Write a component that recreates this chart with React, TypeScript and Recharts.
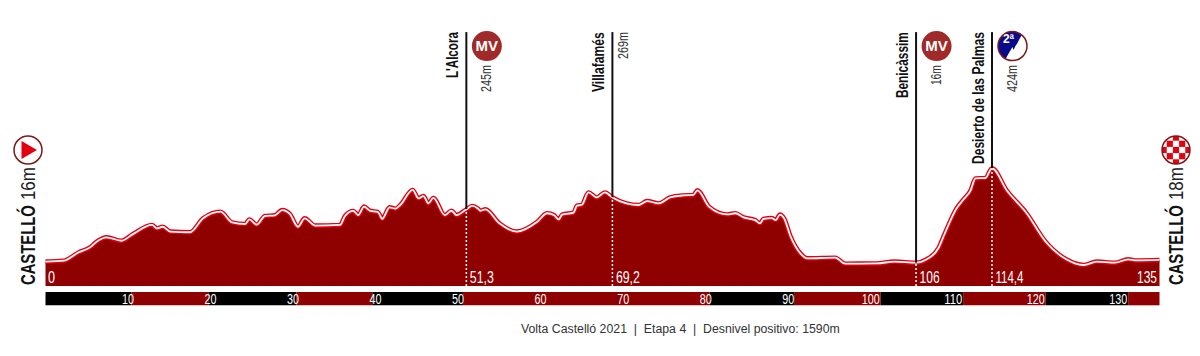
import React from 'react';
import {
  ComposedChart,
  Area,
  Line,
  XAxis,
  YAxis,
  ReferenceArea,
  ReferenceLine,
  ReferenceDot,
} from 'recharts';

// profile: km / metres
const kmPoints = [
  0, 2.2, 4, 5.4, 6.2, 7.4, 9.2, 10.6, 12.9, 13.5, 14.2, 15.1, 17.5, 19.1, 21.2, 22.6, 24.2, 24.7, 25.6, 26.6,
  27.8, 28.7, 29.6, 30.6, 31.4, 32.7, 35.7, 36.3, 37.3, 37.9, 38.6, 39.3, 40.3, 40.8, 41.7, 42.4, 43, 44.5, 45.2,
  45.8, 46.4, 47, 48.4, 49.2, 49.8, 51, 51.7, 52.4, 52.7, 53.3, 55, 57.1, 59.6, 60.8, 61.6, 62.2, 62.6, 64, 64.4,
  65, 65.8, 66.8, 67.8, 68.7, 70.4, 71.9, 72.9, 74.3, 75.7, 77.3, 78.5, 79, 80.4, 82.6, 83.6, 84.6, 86, 86.6, 87,
  88, 88.5, 89, 89.5, 90.3, 91.5, 92.3, 95.7, 96.9, 100.7, 102.9, 105.5, 106.8, 108.2, 108.9, 110.4, 111.2, 112.1,
  112.7, 113.9, 114.7, 116.5, 118.9, 121.2, 123.7, 125.8, 127.4, 129.6, 131.2, 132.2, 135,
];
const elevations = [
  15, 19, 55, 77, 102, 121, 106, 135, 175, 160, 167, 146, 143, 204, 233, 186, 179, 199, 176, 214,
  217, 240, 223, 167, 204, 172, 175, 214, 236, 218, 255, 237, 231, 202, 252, 246, 262, 328, 291,
  301, 269, 293, 218, 237, 218, 243, 258, 247, 237, 243, 182, 146, 189, 226, 218, 199, 220, 229, 259,
  263, 317, 295, 317, 295, 269, 262, 279, 269, 295, 304, 306, 326, 255, 221, 226, 208, 196, 182, 201,
  205, 196, 220, 204, 124, 50, 29, 32, 6, 7, 15, 10, 25, 73, 131, 247, 284, 325,
  378, 380, 422, 325, 226, 102, 25, 0, 15, 10, 25, 20, 22,
];

const tickKms = [10, 20, 30, 40, 50, 60, 70, 80, 90, 100, 110, 120, 130];
const stripEdges = [0, 10.4, 19.8, 30.4, 39.6, 50.6, 80.5, 90.8, 101.2, 111.2, 121.2, 131.2, 135];
const stripColors = ['#000', '#8f0000', '#000', '#8f0000', '#000', '#8f0000', '#000', '#8f0000', '#000', '#8f0000', '#000', '#8f0000'];

const climbKms = [51, 68.7, 105.5, 114.7];
const climbElevations = [243, 295, 10, 422];
const climbNames = ["L'Alcora", 'Villafamés', 'Benicàssim', 'Desierto de las Palmas'];
const climbHeights = ['245m', '269m', '16m', '424m'];
const climbKmLabels = ['51,3', '69,2', '106', '114,4'];
const climbBadges = ['MV', '', 'MV', '2ª'];
const climbNameLengths = [46, 60, 66, 132];
const climbHeightLengths = [27, 27, 20, 27];
const climbKmLengths = [24, 24, 20, 28];

const data = kmPoints.map((km, i) => ({ km, elevation: elevations[i] }));

const NARROW = '"Liberation Sans Narrow", "Liberation Sans", sans-serif';
const BASE = -92;
const TOP = 1017;

const Vertical = ({ x, y, size, weight, fill, length, anchor, children }: any) => (
  <text
    transform={`rotate(-90 ${x} ${y})`}
    x={x}
    y={y}
    fontFamily={NARROW}
    fontSize={size}
    fontWeight={weight}
    fill={fill}
    textAnchor={anchor}
    textLength={length}
    lengthAdjust="spacingAndGlyphs"
  >
    {children}
  </text>
);

const Badge = ({ cx, cy, kind }: any) => {
  if (kind === 'MV') {
    return (
      <g>
        <circle cx={cx} cy={cy} r={15} fill="#a02a2a" />
        <text x={cx} y={cy + 5} textAnchor="middle" fontFamily={NARROW} fontWeight="bold" fontSize={15} fill="#fff">
          MV
        </text>
      </g>
    );
  }
  return (
    <g>
      <clipPath id="cat-clip">
        <circle cx={cx} cy={cy} r={14.5} />
      </clipPath>
      <circle cx={cx} cy={cy} r={14.5} fill="#fff" />
      <path
        clipPath="url(#cat-clip)"
        d={`M${cx - 16} ${cy + 16} V${cy - 16} H${cx + 12} L${cx + 7} ${cy - 7} L${cx + 5} ${cy - 3} L${cx + 3} ${cy} L${cx + 1} ${cy + 4} L${cx} ${cy + 1} L${cx - 3} ${cy + 6} L${cx - 7} ${cy + 13} L${cx - 9} ${cy + 16} Z`}
        fill="#0a0a8c"
      />
      <circle cx={cx} cy={cy} r={14.5} fill="none" stroke="#7a1a1a" strokeWidth={1.5} />
      <text x={cx - 4} y={cy - 3} textAnchor="middle" fontFamily={NARROW} fontWeight="bold" fontSize={12} fill="#fff">
        {kind}
      </text>
    </g>
  );
};

const climbLabel = (i: number) => (props: any) => {
  const { cx, cy } = props;
  const hasBadge = climbBadges[i] !== '';
  return (
    <g>
      <Vertical x={cx - 8} y={cy} size={17} weight="bold" fill="#111" anchor="end" length={climbNameLengths[i]}>
        {climbNames[i]}
      </Vertical>
      {hasBadge && <Badge cx={cx + 20.5} cy={cy + 14} kind={climbBadges[i]} />}
      <Vertical
        x={hasBadge ? cx + 25 : cx + 16}
        y={hasBadge ? cy + 33 : cy}
        size={15}
        weight="normal"
        fill="#333"
        anchor="end"
        length={climbHeightLengths[i]}
      >
        {climbHeights[i]}
      </Vertical>
    </g>
  );
};

const kmLabel = (i: number) => (props: any) => (
  <text
    x={props.cx + 3.5}
    y={props.cy - 3}
    fontFamily={NARROW}
    fontSize={17}
    fill="#fff"
    textLength={climbKmLengths[i]}
    lengthAdjust="spacingAndGlyphs"
  >
    {climbKmLabels[i]}
  </text>
);

const StartMark = (props: any) => {
  const { cx, cy } = props;
  const c = cx - 17.5;
  return (
    <g>
      <circle cx={c} cy={150} r={14} fill="#fff" stroke="#7a1a1a" strokeWidth={1.5} />
      <path d={`M${c - 6.5} 141 L${c + 9} 150 L${c - 6.5} 159 Z`} fill="#e3000f" />
      <Vertical x={cx - 10.5} y={cy - 1} size={21} weight="bold" fill="#111" anchor="start" length={80}>
        CASTELLÓ
      </Vertical>
      <Vertical x={cx - 10.5} y={cy - 86} size={21} weight="normal" fill="#222" anchor="start" length={33}>
        16m
      </Vertical>
      <text x={cx + 6} y={cy - 3} textAnchor="middle" fontFamily={NARROW} fontSize={17} fill="#fff" textLength={7} lengthAdjust="spacingAndGlyphs">
        0
      </text>
    </g>
  );
};

const FinishMark = (props: any) => {
  const { cx, cy } = props;
  const c = cx + 16.5;
  const size = 6.2;
  const squares = [];
  for (let r = -3; r <= 3; r++) {
    for (let q = -3; q <= 3; q++) {
      if ((r + q + 6) % 2 === 0) {
        squares.push(<rect key={`${r}-${q}`} x={c + q * size - size / 2} y={150 + r * size - size / 2} width={size} height={size} fill="#e3000f" />);
      }
    }
  }
  return (
    <g>
      <clipPath id="finish-clip">
        <circle cx={c} cy={150} r={14} />
      </clipPath>
      <circle cx={c} cy={150} r={14} fill="#fff" />
      <g clipPath="url(#finish-clip)">{squares}</g>
      <circle cx={c} cy={150} r={14} fill="none" stroke="#7a1a1a" strokeWidth={1.5} />
      <Vertical x={cx + 23.5} y={cy - 1} size={21} weight="bold" fill="#111" anchor="start" length={80}>
        CASTELLÓ
      </Vertical>
      <Vertical x={cx + 23.5} y={cy - 86} size={21} weight="normal" fill="#222" anchor="start" length={33}>
        18m
      </Vertical>
      <text x={cx - 2.5} y={cy - 3} textAnchor="end" fontFamily={NARROW} fontSize={17} fill="#fff" textLength={20} lengthAdjust="spacingAndGlyphs">
        135
      </text>
    </g>
  );
};

const StripTick = (props: any) => {
  const label = String(props.payload.value);
  return (
    <text
      x={props.x}
      y={303.5}
      textAnchor="middle"
      fontFamily={NARROW}
      fontSize={15}
      fill="#fff"
      textLength={label.length * 6}
      lengthAdjust="spacingAndGlyphs"
    >
      {label}
    </text>
  );
};

export default function App() {
  return (
    <div style={{ position: 'absolute', left: 0, top: 0, width: 1200, height: 356, background: '#fff', overflow: 'hidden' }}>
      <ComposedChart
        width={1200}
        height={356}
        data={data}
        margin={{ top: 10, right: 40.5, bottom: 49, left: 45.5 }}
      >
        <XAxis
          dataKey="km"
          type="number"
          domain={[0, 135]}
          ticks={tickKms}
          height={1}
          axisLine={false}
          tickLine={false}
          tick={<StripTick />}
          interval={0}
        />
        <YAxis hide type="number" domain={[-179, 1113.5]} allowDataOverflow />
        {stripColors.map((color, i) => (
          <ReferenceArea key={i} x1={stripEdges[i]} x2={stripEdges[i + 1]} y1={-118} y2={-176} fill={color} fillOpacity={1} stroke="none" />
        ))}
        <Area dataKey="elevation" type="monotone" baseValue={BASE} fill="#8f0000" fillOpacity={1} stroke="none" isAnimationActive={false} />
        <Line dataKey="elevation" type="monotone" stroke="#e3000f" strokeWidth={4.5} dot={false} isAnimationActive={false} />
        <Line dataKey="elevation" type="monotone" stroke="#fff" strokeWidth={1.8} dot={false} isAnimationActive={false} />
        {climbKms.map((km, i) => (
          <ReferenceLine key={`up-${i}`} segment={[{ x: km, y: climbElevations[i] }, { x: km, y: TOP }]} stroke="#111" strokeWidth={2} />
        ))}
        {climbKms.map((km, i) => (
          <ReferenceLine key={`down-${i}`} segment={[{ x: km, y: BASE }, { x: km, y: climbElevations[i] }]} stroke="#fff" strokeWidth={1.5} strokeDasharray="2 2" />
        ))}
        {climbKms.map((km, i) => (
          <ReferenceDot key={`name-${i}`} x={km} y={TOP} ifOverflow="visible" shape={climbLabel(i)} />
        ))}
        {climbKms.map((km, i) => (
          <ReferenceDot key={`km-${i}`} x={km} y={BASE} ifOverflow="visible" shape={kmLabel(i)} />
        ))}
        <ReferenceDot x={0} y={BASE} ifOverflow="visible" shape={StartMark} />
        <ReferenceDot x={135} y={BASE} ifOverflow="visible" shape={FinishMark} />
      </ComposedChart>
      <div
        style={{
          position: 'absolute',
          left: 521,
          top: 322,
          width: 320,
          fontFamily: '"Liberation Sans", sans-serif',
          fontSize: 12.3,
          color: '#333',
          whiteSpace: 'nowrap',
        }}
      >
        Volta Castelló 2021 &nbsp;|&nbsp; Etapa 4 &nbsp;|&nbsp; Desnivel positivo: 1590m
      </div>
    </div>
  );
}
